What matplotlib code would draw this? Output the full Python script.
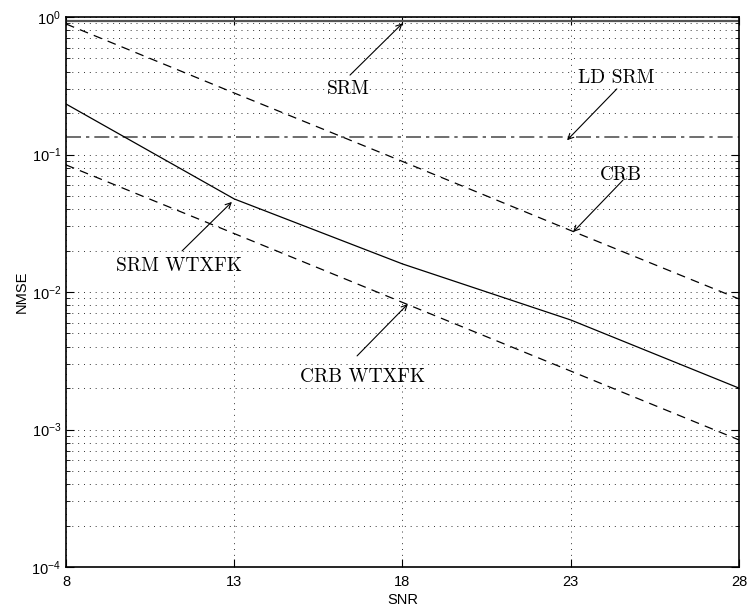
import numpy as np
import matplotlib
matplotlib.use("Agg")
from matplotlib import pyplot as plt

# data
snr = [8, 13, 18, 23, 28]
srm = [0.94, 0.94, 0.94, 0.94, 0.94]
ld_srm = [0.134, 0.134, 0.134, 0.134, 0.134]
crb = [0.89, 0.28, 0.089, 0.028, 0.0089]
srm_wtxfk = [0.233, 0.0475, 0.016, 0.00626, 0.002]
crb_wtxfk = [0.084, 0.0266, 0.0084, 0.00266, 0.00084]

plt.rcParams['font.family'] = ['Liberation Sans', 'DejaVu Sans']

fig = plt.figure(figsize=(7.49, 6.13), dpi=100)
ax = fig.add_axes([66 / 749, 1 - 567 / 613, 673 / 749, 550 / 613])

ax.semilogy(snr, srm, color='#555555', lw=1.6, ls='-')
ax.semilogy(snr, ld_srm, color='#555555', lw=1.2, ls=(0, (9, 3, 2, 3)))
ax.semilogy(snr, crb, color='black', lw=0.9, ls=(0, (7, 5)))
ax.semilogy(snr, srm_wtxfk, color='black', lw=0.9, ls='-')
ax.semilogy(snr, crb_wtxfk, color='black', lw=0.9, ls=(0, (7, 5)))

ax.set_xlim(8, 28)
ax.set_ylim(1e-4, 1)
ax.set_xticks(snr)
grid_style = dict(ls=(0, (1, 5)), color='#333333', lw=0.7)
ax.grid(True, which='major', **grid_style)
ax.grid(True, which='minor', axis='y', **grid_style)
ax.tick_params(which='both', direction='in', top=True, right=True, labelsize=10.5)
ax.tick_params(axis='x', pad=6)
ax.tick_params(which='major', length=6)
ax.tick_params(which='minor', length=3)
for s in ax.spines.values():
    s.set_linewidth(1.2)

ax.set_xlabel('SNR', fontsize=10.5, labelpad=3)
ax.set_ylabel('NMSE', fontsize=10.5, labelpad=2)

# annotations: text and arrow placed separately
txt = dict(fontsize=14, family='cmr10', ha='center', va='center')
arr = dict(arrowstyle='->', lw=0.8, color='black', shrinkA=0, shrinkB=0)

ax.text(16.4, 0.30, 'SRM', **txt)
ax.annotate('', xy=(18.0, 0.90), xytext=(16.44, 0.378), arrowprops=arr)

ax.text(24.35, 0.36, 'LD SRM', **txt)
ax.annotate('', xy=(22.89, 0.127), xytext=(24.37, 0.30), arrowprops=arr)

ax.text(24.5, 0.071, 'CRB', **txt)
ax.annotate('', xy=(23.07, 0.0273), xytext=(24.55, 0.065), arrowprops=arr)

ax.text(11.36, 0.0155, 'SRM WTXFK', **txt)
ax.annotate('', xy=(12.93, 0.0452), xytext=(11.45, 0.0199), arrowprops=arr)

ax.text(16.8, 0.00241, 'CRB WTXFK', **txt)
ax.annotate('', xy=(18.16, 0.00818), xytext=(16.65, 0.00343), arrowprops=arr)

fig.savefig('out.png', dpi=100)
